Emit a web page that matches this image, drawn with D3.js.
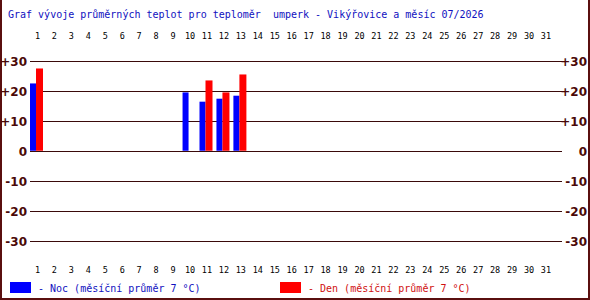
<!DOCTYPE html>
<html><head><meta charset="utf-8">
<script src="https://cdn.jsdelivr.net/npm/d3@7"></script>
<style>body{margin:0;background:#fff}svg{display:block}</style>
</head><body>
<svg id="c" width="590" height="300"></svg>
<script>
const title = "Graf vývoje průměrných teplot pro teploměr  umperk - Vikýřovice a měsíc 07/2026";
const days = d3.range(1, 32);
const nightVals = [22.5,null,null,null,null,null,null,null,null,19.5,16.4,17.4,18.4,null,null,null,null,null,null,null,null,null,null,null,null,null,null,null,null,null,null];
const dayVals   = [27.5,null,null,null,null,null,null,null,null,null,23.5,19.5,25.5,null,null,null,null,null,null,null,null,null,null,null,null,null,null,null,null,null,null];
const yTicks = [30,20,10,0,-10,-20,-30];
const legendNight = "- Noc (měsíční průměr 7 °C)";
const legendDay = "- Den (měsíční průměr 7 °C)";

const svg = d3.select("#c");
const maroon = "#5a0f0f";
const x = d3.scaleBand().domain(days).range([30, 30 + 31*16.95]).paddingInner(0).paddingOuter(0);
const y = d3.scaleLinear().domain([-30, 30]).range([240.5, 61]);

// border
svg.append("line").attr("x1",1).attr("x2",1).attr("y1",0).attr("y2",300).attr("stroke",maroon).attr("stroke-width",2);
svg.append("line").attr("x1",589).attr("x2",589).attr("y1",0).attr("y2",300).attr("stroke",maroon).attr("stroke-width",2);
svg.append("line").attr("x1",0).attr("x2",590).attr("y1",299).attr("y2",299).attr("stroke",maroon).attr("stroke-width",2);

svg.append("text").attr("x",8).attr("y",18).attr("fill","#1010c0")
  .attr("font-family","DejaVu Sans Mono, monospace").attr("font-size",10).attr("xml:space","preserve")
  .style("white-space","pre").text(title);

// grid
svg.selectAll("line.grid").data(yTicks).join("line").attr("class","grid")
  .attr("x1",30).attr("x2",562).attr("y1",d=>Math.round(y(d))+0.5).attr("y2",d=>Math.round(y(d))+0.5)
  .attr("stroke","#3a0a0a").attr("stroke-width",1);

const fmt = d => d > 0 ? "+" + d : String(d);
svg.selectAll("text.yl").data(yTicks).join("text").attr("class","yl")
  .attr("x",27).attr("y",d=>y(d)+5).attr("text-anchor","end")
  .attr("font-family","Verdana, DejaVu Sans, sans-serif").attr("font-weight","bold").attr("font-size",12)
  .attr("fill","#4a0808").text(fmt);
svg.selectAll("text.yr").data(yTicks).join("text").attr("class","yr")
  .attr("x",587).attr("y",d=>y(d)+5).attr("text-anchor","end")
  .attr("font-family","Verdana, DejaVu Sans, sans-serif").attr("font-weight","bold").attr("font-size",12)
  .attr("fill","#4a0808").text(fmt);

// day labels
[39, 273].forEach(yy => {
  svg.append("g").selectAll("text").data(days).join("text")
    .attr("x",d=>x(d)+x.bandwidth()/2 - 1).attr("y",yy).attr("text-anchor","middle")
    .attr("font-family","DejaVu Sans Mono, monospace").attr("font-size",8.5).attr("fill","#000")
    .text(d=>d);
});

// bars
const bw = x.bandwidth();
svg.append("g").selectAll("rect").data(days.filter((d,i)=>nightVals[i]!=null)).join("rect")
  .attr("x",d=>x(d)).attr("width",6)
  .attr("y",d=>y(nightVals[d-1])).attr("height",d=>y(0)-y(nightVals[d-1]))
  .attr("fill","#0000ff");
svg.append("g").selectAll("rect").data(days.filter((d,i)=>dayVals[i]!=null)).join("rect")
  .attr("x",d=>x(d)+6).attr("width",7)
  .attr("y",d=>y(dayVals[d-1])).attr("height",d=>y(0)-y(dayVals[d-1]))
  .attr("fill","#ff0000");

// legend
svg.append("rect").attr("x",10).attr("y",282).attr("width",21).attr("height",11).attr("fill","#0000ff");
svg.append("text").attr("x",38).attr("y",292).attr("fill","#1010c0")
  .attr("font-family","DejaVu Sans Mono, monospace").attr("font-size",10).text(legendNight);
svg.append("rect").attr("x",280).attr("y",282).attr("width",21).attr("height",11).attr("fill","#ff0000");
svg.append("text").attr("x",308).attr("y",292).attr("fill","#d01010")
  .attr("font-family","DejaVu Sans Mono, monospace").attr("font-size",10).text(legendDay);
</script>
</body></html>
